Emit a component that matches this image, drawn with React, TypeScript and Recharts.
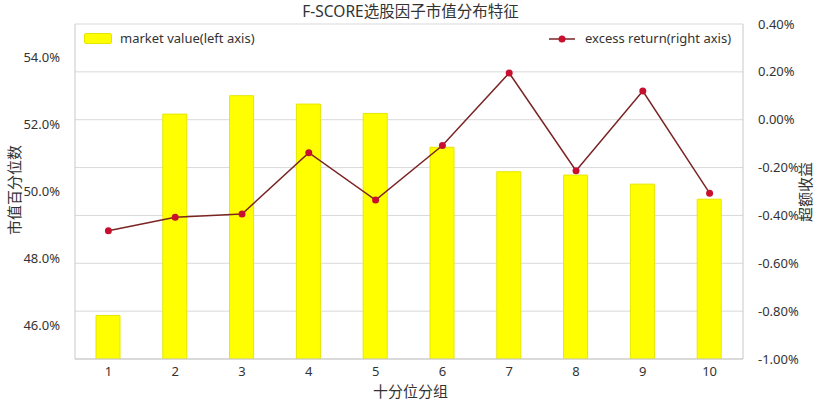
import { useEffect } from "react";
import {
  ComposedChart,
  Bar,
  Line,
  XAxis,
  YAxis,
  CartesianGrid,
} from "recharts";

// 十分位分组
const groups = ["1", "2", "3", "4", "5", "6", "7", "8", "9", "10"];

// market value percentile (left axis, %)
const marketValue = [46.3, 52.31, 52.86, 52.61, 52.33, 51.32, 50.59, 50.49, 50.22, 49.77];

// excess return (right axis, %)
const excessReturn = [-0.464, -0.408, -0.394, -0.138, -0.336, -0.108, 0.195, -0.213, 0.12, -0.307];

const leftTicks = [46, 48, 50, 52, 54];
const rightTicks = [-1.0, -0.8, -0.6, -0.4, -0.2, 0.0, 0.2, 0.4];

const data = groups.map((g, i) => ({
  group: g,
  mv: marketValue[i],
  er: excessReturn[i],
}));

const FONT = '"Noto Sans", "Noto Sans CJK SC", sans-serif';
const TEXT = "#333333";
const AXIS = "#c8c8c8";

export default function App() {
  useEffect(() => {
    document.body.style.margin = "0";
  }, []);

  return (
    <div style={{ position: "relative", width: 821, height: 409, fontFamily: FONT, color: TEXT, background: "#fff" }}>
      <ComposedChart
        width={821}
        height={409}
        data={data}
        margin={{ top: 24, right: 18, left: 15, bottom: 20 }}
      >
        <CartesianGrid yAxisId="right" vertical={false} stroke="#d9d9d9" />
        <XAxis
          dataKey="group"
          height={30}
          stroke={AXIS}
          tickLine={false}
          tickMargin={2}
          tick={{ fill: TEXT, fontSize: 13, fontFamily: FONT }}
        />
        <YAxis
          yAxisId="left"
          orientation="left"
          width={60}
          domain={[45, 55]}
          ticks={leftTicks}
          allowDataOverflow
          stroke={AXIS}
          tickLine={false}
          tickMargin={9}
          tickFormatter={(v: number) => v.toFixed(1) + "%"}
          tick={{ fill: TEXT, fontSize: 13, fontFamily: FONT }}
        />
        <YAxis
          yAxisId="right"
          orientation="right"
          width={60}
          domain={[-1.0, 0.4]}
          ticks={rightTicks}
          allowDataOverflow
          stroke={AXIS}
          tickLine={false}
          tickMargin={9}
          tickFormatter={(v: number) => v.toFixed(2) + "%"}
          tick={{ fill: TEXT, fontSize: 13, fontFamily: FONT }}
        />
        <Bar
          yAxisId="left"
          dataKey="mv"
          barSize={24}
          fill="#ffff00"
          stroke="#e6e600"
          strokeWidth={1}
          isAnimationActive={false}
        />
        <Line
          yAxisId="right"
          dataKey="er"
          stroke="#7a2424"
          strokeWidth={1.5}
          dot={{ r: 3.5, fill: "#c8102e", stroke: "#c8102e", strokeWidth: 0 }}
          activeDot={false}
          isAnimationActive={false}
        />
      </ComposedChart>

      <div style={{ position: "absolute", left: 0, width: 821, top: 4, textAlign: "center", fontSize: 15.5, lineHeight: 1 }}>
        F-SCORE选股因子市值分布特征
      </div>

      <div style={{ position: "absolute", left: 0, width: 821, top: 384, textAlign: "center", fontSize: 15, lineHeight: 1 }}>
        十分位分组
      </div>

      <div
        style={{
          position: "absolute",
          left: 14,
          top: 190,
          fontSize: 15,
          lineHeight: 1,
          whiteSpace: "nowrap",
          transform: "translate(-50%, -50%) rotate(-90deg)",
        }}
      >
        市值百分位数
      </div>

      <div
        style={{
          position: "absolute",
          left: 805,
          top: 192,
          fontSize: 15,
          lineHeight: 1,
          whiteSpace: "nowrap",
          transform: "translate(-50%, -50%) rotate(-90deg)",
        }}
      >
        超额收益
      </div>

      <div style={{ position: "absolute", left: 84, top: 32, display: "flex", alignItems: "center", fontSize: 13, lineHeight: 1 }}>
        <span style={{ display: "inline-block", width: 26, height: 9, background: "#ffff00", border: "1px solid #e6e600", borderRadius: 2, marginRight: 8 }} />
        market value(left axis)
      </div>

      <div style={{ position: "absolute", left: 549, top: 32, display: "flex", alignItems: "center", fontSize: 13, lineHeight: 1 }}>
        <svg width={28} height={10} style={{ marginRight: 8 }}>
          <line x1={0} y1={5} x2={26} y2={5} stroke="#7a2424" strokeWidth={1.5} />
          <circle cx={13} cy={5} r={3.5} fill="#c8102e" />
        </svg>
        excess return(right axis)
      </div>
    </div>
  );
}
